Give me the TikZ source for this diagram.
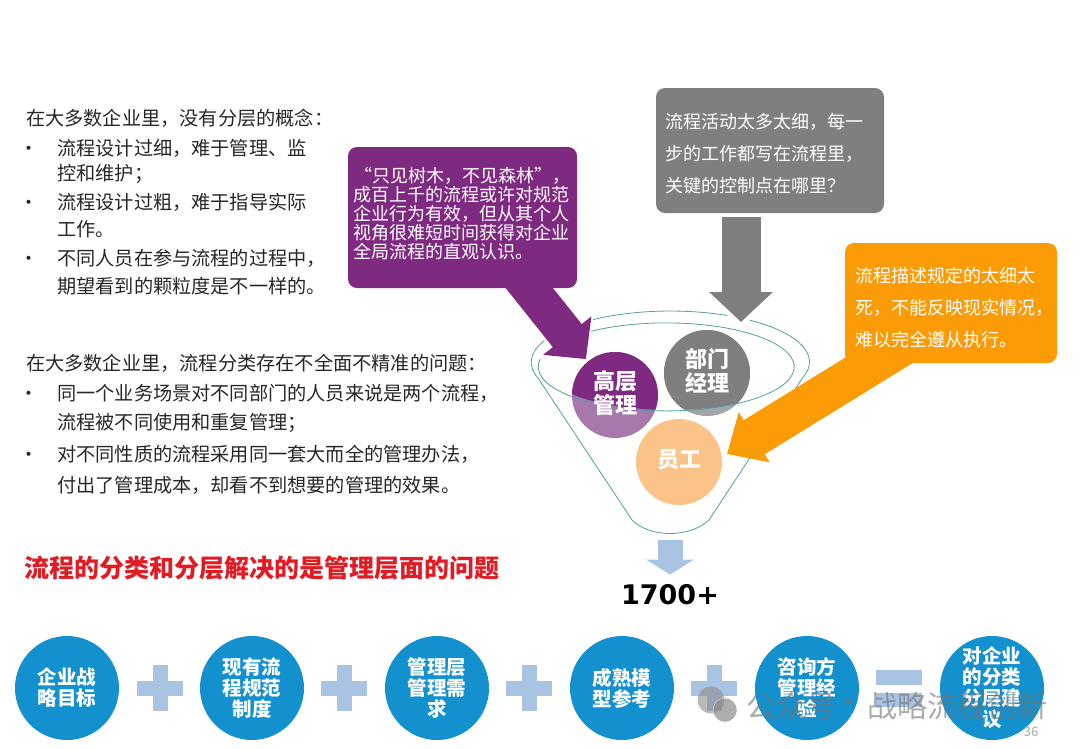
\documentclass[tikz,border=0pt]{standalone}
\usepackage{fontspec}
\usepackage{xcolor}
\setmainfont{Noto Sans CJK SC}
\newfontfamily\numfont{DejaVu Sans}
\usetikzlibrary{arrows.meta,calc,positioning,shapes.geometric}
\pgfdeclarelayer{back}
\pgfsetlayers{back,main}
\definecolor{plumbox}{HTML}{7F2A81}
\definecolor{plumsoft}{HTML}{A878AC}
\definecolor{slatebox}{HTML}{7F7F7F}
\definecolor{slatesoft}{HTML}{A3A6A8}
\definecolor{amberbox}{HTML}{FB9C07}
\definecolor{ambersoft}{HTML}{FBC388}
\definecolor{tealline}{HTML}{4F9EA3}
\definecolor{bluecircle}{HTML}{1391CF}
\definecolor{paleblue}{HTML}{A9C3E3}
\definecolor{headred}{HTML}{E01B24}
\definecolor{bodyink}{HTML}{262626}
\tikzset{
  bodyline/.style={anchor=west, inner sep=0pt, text=bodyink, font=\fontsize{19.2}{23}\selectfont},
  bullet/.style={anchor=center, inner sep=0pt, text=bodyink, font=\fontsize{19}{23}\selectfont},
  topicbox/.style={rounded corners=9pt, inner sep=0pt, text=white, align=left, font=\fontsize{18}{32}\selectfont},
  rolecircle/.style={circle, minimum size=86pt, inner sep=0pt},
  rolelabel/.style={inner sep=0pt, align=center, text=white, font=\bfseries\fontsize{22}{24}\selectfont},
  inputcircle/.style={circle, fill=bluecircle, minimum size=104pt, inner sep=0pt, align=center, text=white, font=\bfseries\fontsize{19.5}{21}\selectfont},
  funnel/.style={draw=tealline, line width=0.8pt},
  opbar/.style={fill=paleblue, inner sep=0pt},
  watermark/.style={inner sep=0pt, text=black!55, opacity=0.6, font=\fontsize{30}{34}\selectfont}
}
\begin{document}
\begin{tikzpicture}[x=1pt,y=-1pt]
  \useasboundingbox (0,0) rectangle (1080,748);

  \node[bodyline] (upperhead) at (26,118) {在大多数企业里，没有分层的概念：};
  \foreach \y/\txt [count=\i] in {148/流程设计过细，难于管理、监,174/控和维护；,202/流程设计过粗，难于指导实际,229/工作。,258/不同人员在参与流程的过程中，,286/期望看到的颗粒度是不一样的。}
    {\node[bodyline] (upper\i) at (57,\y) {\txt};}
  \foreach \y [count=\i] in {151,205,261}
    {\node[bullet] (upperdot\i) at (29,\y) {•};}

  \node[bodyline] (lowerhead) at (26,363) {在大多数企业里，流程分类存在不全面不精准的问题：};
  \foreach \y/\txt [count=\i] in {393/同一个业务场景对不同部门的人员来说是两个流程，,423/流程被不同使用和重复管理；,454/对不同性质的流程采用同一套大而全的管理办法，,485/付出了管理成本，却看不到想要的管理的效果。}
    {\node[bodyline] (lower\i) at (57,\y) {\txt};}
  \foreach \y [count=\i] in {396,457}
    {\node[bullet] (lowerdot\i) at (29,\y) {•};}

  \node[anchor=west, inner sep=0pt, text=headred, font=\bfseries\fontsize{25}{28}\selectfont] (conclusion) at (24,568) {流程的分类和分层解决的是管理层面的问题};

  \node[topicbox, fill=plumbox, minimum width=229pt, minimum height=141pt, text width=219pt, font=\fontsize{18}{19}\selectfont] (plumnote) at (462.5,217.5)
    {\hspace*{1pt}“只见树木，不见森林”，\\成百上千的流程或许对规范\\企业行为有效，但从其个人\\视角很难短时间获得对企业\\全局流程的直观认识。\rule[-9pt]{0pt}{1pt}};
  \node[topicbox, fill=slatebox, minimum width=228pt, minimum height=125pt, text width=210pt] (slatenote) at (770,150.5)
    {\rule{0pt}{22pt}流程活动太多太细，每一\\步的工作都写在流程里，\\关键的控制点在哪里？};
  \node[topicbox, fill=amberbox, minimum width=212pt, minimum height=120pt, text width=192pt] (ambernote) at (951,303)
    {\rule{0pt}{24pt}流程描述规定的太细太\\死，不能反映现实情况，\\难以完全遵从执行。};

  \begin{pgfonlayer}{back}
    \draw[funnel] (750,320.2) arc[start angle=55, end angle=-18, x radius=139.5pt, y radius=51pt]
      -- (709,520) .. controls (690,538) and (650,538) .. (632,520)
      -- (538,378) arc[start angle=198, end angle=155, x radius=139.5pt, y radius=51pt];
    \draw[funnel] (593,319.6) arc[start angle=123.7, end angle=66, x radius=139.5pt, y radius=51pt];

    \node[rolecircle, fill=plumsoft] (senior) at (615,395) {};
    \node[rolecircle, fill=slatesoft] (manager) at (707,373) {};
    \node[rolecircle, fill=ambersoft] (staff) at (679,462) {};
    \begin{scope}
      \clip (670,366) ellipse [x radius=128pt, y radius=44pt];
      \fill[plumbox] (senior.center) circle (43pt);
      \fill[slatebox] (manager.center) circle (43pt);
    \end{scope}
    \draw[funnel] (591,331.3) arc[start angle=126, end angle=-190, x radius=128pt, y radius=44pt];
    \node[rolelabel] (seniorlabel) at (615,393) {高层\\管理};
    \node[rolelabel] (managerlabel) at (707,371) {部门\\经理};
    \node[rolelabel] (stafflabel) at (679,460) {员工};

    \draw[line width=37pt, draw=plumbox, fill=plumbox, shorten >=3pt, -{Triangle[length=30pt, width=60pt]}]
      ($(plumnote.south)+(55,-15)$) -- (senior.129);
    \draw[line width=39pt, draw=slatebox, fill=slatebox, -{Triangle[length=30pt, width=62pt]}]
      ($(slatenote.south)+(-29,4)$) -- (741,322) coordinate (slatetip);
    \draw[line width=40pt, draw=amberbox, fill=amberbox, -{Triangle[length=32pt, width=57pt]}]
      ($(ambernote.south)+(-41,-22)$) -- (727,454) coordinate (ambertip);
  \end{pgfonlayer}

  \coordinate (funnelbottom) at (670,540);
  \node[inner sep=0pt, font=\numfont\bfseries\fontsize{27}{30}\selectfont] (total) at (670,595) {1700+};
  \draw[line width=25pt, draw=paleblue, fill=paleblue, shorten >=10pt, -{Triangle[length=15pt, width=47pt]}] (funnelbottom) -- (total.north);

  \foreach \x/\label [count=\i] in {67/企业战\\略目标,252/现有流\\程规范\\制度,437/管理层\\管理需\\求,622/成熟模\\型参考,807/咨询方\\管理经\\验,992/对企业\\的分类\\分层建\\议}
    {\node[inputcircle] (input\i) at (\x,688) {\label};}

  \foreach \x [count=\i] in {160,344,529,714} {
    \node[opbar, minimum width=46pt, minimum height=15pt] (plusbar\i) at (\x,688.5) {};
    \node[opbar, minimum width=15pt, minimum height=46pt] (plusstem\i) at (\x,688) {};
  }
  \node[opbar, minimum width=46pt, minimum height=15pt] (equalstop) at (899,677.5) {};
  \node[opbar, minimum width=46pt, minimum height=14pt] (equalsbottom) at (899,700) {};

  \node[circle, fill=black!45, opacity=0.6, minimum size=27pt, inner sep=0pt] (chatback) at (711,700) {};
  \node[circle, fill=black!45, draw=white, opacity=0.7, minimum size=24pt, inner sep=0pt] (chatfront) at (725,710) {};
  \node[watermark, anchor=west] (markleft) at (746,706) {公众号};
  \node[watermark] (markdot) at (848,706) {·};
  \node[watermark, anchor=west] (markright) at (867,706) {战略流程创新};
  \node[inner sep=0pt, text=black!35, font=\fontsize{13}{15}\selectfont] (pagenumber) at (1031,732) {36};
\end{tikzpicture}
\end{document}
